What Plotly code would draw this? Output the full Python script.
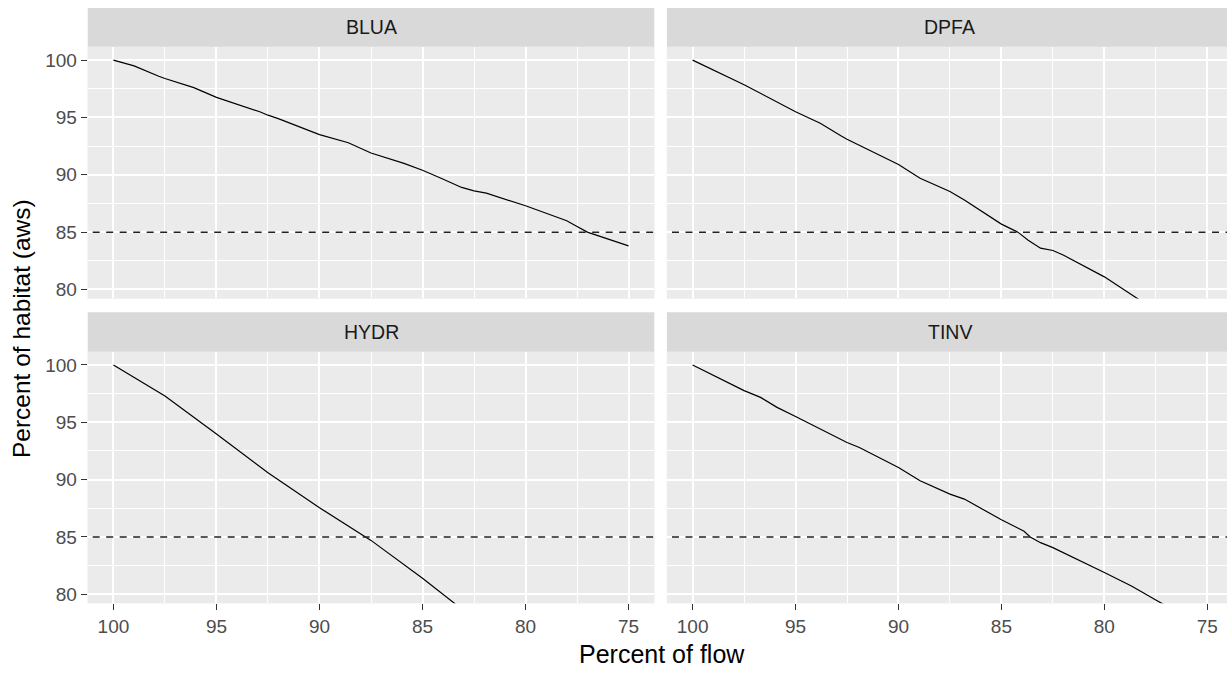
import plotly.graph_objects as go

# ---- data ----
panels = ["BLUA", "DPFA", "HYDR", "TINV"]

blua_flow = [100, 99, 97.8, 97.5, 96.1, 95, 92.9, 92.5, 92, 90, 88.6, 88, 87.5, 85.9, 85, 84.1, 83.1, 82.5, 81.9, 80, 78, 77.5, 77, 75]
blua_hab = [100, 99.5, 98.6, 98.4, 97.6, 96.75, 95.5, 95.2, 94.9, 93.5, 92.8, 92.3, 91.9, 91.0, 90.4, 89.7, 88.9, 88.6, 88.4, 87.3, 86.0, 85.5, 85.0, 83.8]

dpfa_flow = [100, 97.5, 95, 93.8, 92.8, 92.5, 90, 88.95, 87.5, 86.8, 85, 84.2, 83.7, 83.1, 82.5, 82, 80, 78.3]
dpfa_hab = [100, 97.86, 95.5, 94.5, 93.4, 93.1, 90.9, 89.7, 88.55, 87.8, 85.7, 85.0, 84.3, 83.6, 83.4, 83.0, 81.1, 79.1]

hydr_flow = [100, 97.5, 95, 92.5, 90, 87.8, 87.5, 85, 84.1, 83.3]
hydr_hab = [100, 97.3, 93.97, 90.6, 87.55, 85.0, 84.7, 81.4, 80.1, 79.0]

tinv_flow = [100, 98.66, 97.5, 96.7, 95.9, 95, 93.6, 92.5, 91.9, 90, 88.95, 87.5, 86.8, 85, 83.9, 83.6, 83.1, 82.5, 80, 78.66, 77.5, 77.0]
tinv_hab = [100, 98.78, 97.76, 97.17, 96.3, 95.5, 94.26, 93.24, 92.8, 91.06, 89.9, 88.73, 88.3, 86.5, 85.5, 85.0, 84.5, 84.07, 81.9, 80.7, 79.5, 79.0]

threshold = 85
x_ticks = [100, 95, 90, 85, 80, 75]
y_ticks = [80, 85, 90, 95, 100]

series = [(blua_flow, blua_hab), (dpfa_flow, dpfa_hab), (hydr_flow, hydr_hab), (tinv_flow, tinv_hab)]

# ---- layout geometry (pixels) ----
W, H = 1227, 673
px_per_x = 20.59
col_x = [(87.7, 654.3), (666.9, 1233.0)]
row_y = [(47.0, 299.3), (352.7, 605.0)]
strip_y = [(8.0, 47.0), (313.3, 352.7)]
x_full = [101.25, 73.75]
y_range = [79.22, 101.16]

fig = go.Figure()

font_family = "Liberation Sans, Arial, sans-serif"
tick_size = 19
strip_size = 19.5
title_size = 25

for i, (name, (fx, fy)) in enumerate(zip(panels, series)):
    r, c = divmod(i, 2)
    ax = "" if i == 0 else str(i + 1)
    x0, x1 = col_x[c]
    xr = list(x_full)
    if x1 > W:
        xr[1] = x_full[1] + (x1 - W) / px_per_x
        x1 = W
    dom_x = [x0 / W, x1 / W]
    y0, y1 = row_y[r]
    dom_y = [1 - y1 / H, 1 - y0 / H]

    fig.add_trace(go.Scatter(x=fx, y=fy, mode="lines",
                             line=dict(color="black", width=1.2),
                             xaxis="x" + ax, yaxis="y" + ax,
                             showlegend=False, hoverinfo="x+y"))
    fig.add_trace(go.Scatter(x=[x_full[0] + 5, x_full[1] - 5], y=[threshold, threshold], mode="lines",
                             line=dict(color="#222222", width=1.5, dash="7px,6.5px"),
                             xaxis="x" + ax, yaxis="y" + ax,
                             showlegend=False, hoverinfo="skip"))

    show_x = (r == 1)
    show_y = (c == 0)
    xa = dict(domain=dom_x, range=xr, anchor="y" + ax,
              tickmode="array", tickvals=x_ticks, ticktext=[str(v) for v in x_ticks],
              showticklabels=show_x, ticks="outside" if show_x else "",
              ticklen=6, tickwidth=1.2, tickcolor="#333333",
              tickfont=dict(family=font_family, size=tick_size, color="#4D4D4D"),
              showgrid=True, gridcolor="white", gridwidth=1.5,
              minor=dict(tickmode="array", tickvals=[97.5, 92.5, 87.5, 82.5, 77.5],
                         showgrid=True, gridcolor="white", gridwidth=0.8, ticks=""),
              zeroline=False, showline=False, fixedrange=True)
    ya = dict(domain=dom_y, range=y_range, anchor="x" + ax,
              tickmode="array", tickvals=y_ticks, ticktext=[str(v) for v in y_ticks],
              showticklabels=show_y, ticks="outside" if show_y else "",
              ticklen=6, tickwidth=1.2, tickcolor="#333333",
              tickfont=dict(family=font_family, size=tick_size, color="#4D4D4D"),
              showgrid=True, gridcolor="white", gridwidth=1.5,
              minor=dict(tickmode="array", tickvals=[97.5, 92.5, 87.5, 82.5],
                         showgrid=True, gridcolor="white", gridwidth=0.8, ticks=""),
              zeroline=False, showline=False, fixedrange=True)
    fig.update_layout(**{"xaxis" + ax: xa, "yaxis" + ax: ya})

    fig.add_shape(type="rect", xref="paper", yref="paper", layer="below",
                  x0=dom_x[0], x1=dom_x[1], y0=dom_y[0], y1=dom_y[1],
                  fillcolor="#EBEBEB", line=dict(width=0))
    s0, s1 = strip_y[r]
    fig.add_shape(type="rect", xref="paper", yref="paper",
                  x0=dom_x[0], x1=dom_x[1], y0=1 - s1 / H, y1=1 - s0 / H,
                  fillcolor="#D9D9D9", line=dict(width=0))
    fig.add_annotation(text=name, xref="paper", yref="paper",
                       x=(col_x[c][0] + col_x[c][1]) / 2 / W, y=1 - (s0 + s1) / 2 / H,
                       showarrow=False, xanchor="center", yanchor="middle",
                       font=dict(family=font_family, size=strip_size, color="#1A1A1A"))

fig.add_annotation(text="Percent of flow", xref="paper", yref="paper",
                   x=662 / W, y=1 - 656 / H, showarrow=False,
                   xanchor="center", yanchor="middle",
                   font=dict(family=font_family, size=title_size, color="black"))
fig.add_annotation(text="Percent of habitat (aws)", xref="paper", yref="paper",
                   x=21 / W, y=1 - 330 / H, showarrow=False, textangle=-90,
                   xanchor="center", yanchor="middle",
                   font=dict(family=font_family, size=24.5, color="black"))

fig.update_layout(width=W, height=H, margin=dict(l=0, r=0, t=0, b=0),
                  paper_bgcolor="white", plot_bgcolor="#EBEBEB",
                  font=dict(family=font_family))

fig.write_html("out.html", config={"displayModeBar": False},
               post_script="document.body.style.margin='0px';")
